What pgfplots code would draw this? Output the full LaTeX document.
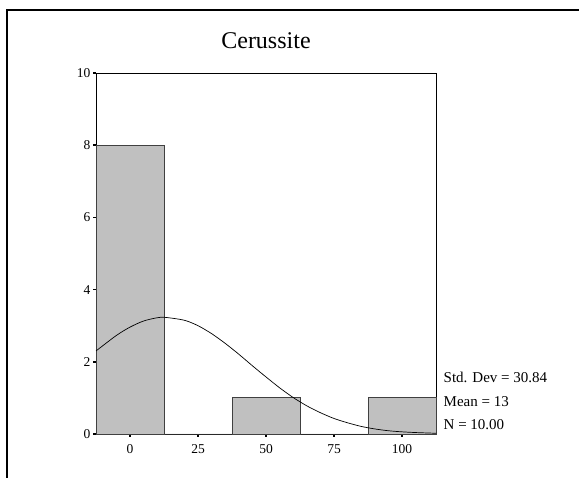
\documentclass[border=0pt]{standalone}
\usepackage{pgfplots}
\pgfplotsset{compat=1.18}
\usepackage{fontspec}
\setmainfont{Liberation Serif}
\definecolor{barfill}{RGB}{192,192,192}
\definecolor{baredge}{RGB}{64,64,64}
\begin{document}
\fontsize{13.5}{16}\selectfont
\begin{tikzpicture}[x=1pt,y=1pt]
\path[use as bounding box] (0,0) rectangle (579,478);
\draw[line width=2.2pt] (7,0) -- (7,468) -- (579,468);
\begin{axis}[
  at={(96pt,44pt)}, anchor=south west,
  scale only axis, width=340pt, height=361pt,
  xmin=-12.5, xmax=112.5, ymin=0, ymax=10,
  xtick={0,25,50,75,100}, ytick={0,2,4,6,8,10},
  xticklabels={0,25,50,75,100}, yticklabels={0,2,4,6,8,10},
  tick align=outside, major tick length=3pt,
  tick style={black, line width=1.6pt},
  xtick pos=bottom, ytick pos=left,
  axis line style={black, line width=0.8pt},
  xticklabel style={font=\fontsize{13.5}{16}\selectfont, yshift=-3pt},
  yticklabel style={font=\fontsize{13.5}{16}\selectfont, xshift=2pt},
  clip=false,
]
\addplot[ybar interval, fill=barfill, draw=baredge, line width=0.8pt] coordinates {
  (-12.5,8) (12.5,0) (37.5,1) (62.5,0) (87.5,1) (112.5,1)
};
\addplot[black, line width=0.7pt, smooth] coordinates {
  (-12.5,2.30) (-5,2.73) (0,2.96) (5,3.13) (10,3.22) (13,3.23) (20,3.15)
  (25,3.00) (30,2.78) (35,2.51) (40,2.21) (45,1.89) (50,1.58) (55,1.28)
  (60,1.01) (65,0.78) (70,0.59) (75,0.43) (80,0.31) (85,0.21) (90,0.14)
  (95,0.09) (100,0.06) (105,0.04) (112.5,0.02)
};
\end{axis}
\node[anchor=base, font=\fontsize{24}{28}\selectfont] at (266,429) {Cerussite};
\node[anchor=west, font=\fontsize{15}{17}\selectfont] at (439,478-377) {Std. Dev = 30.84};
\node[anchor=west, font=\fontsize{15}{17}\selectfont] at (439,478-402) {Mean = 13};
\node[anchor=west, font=\fontsize{15}{17}\selectfont] at (439,478-425) {N = 10.00};
\end{tikzpicture}
\end{document}
